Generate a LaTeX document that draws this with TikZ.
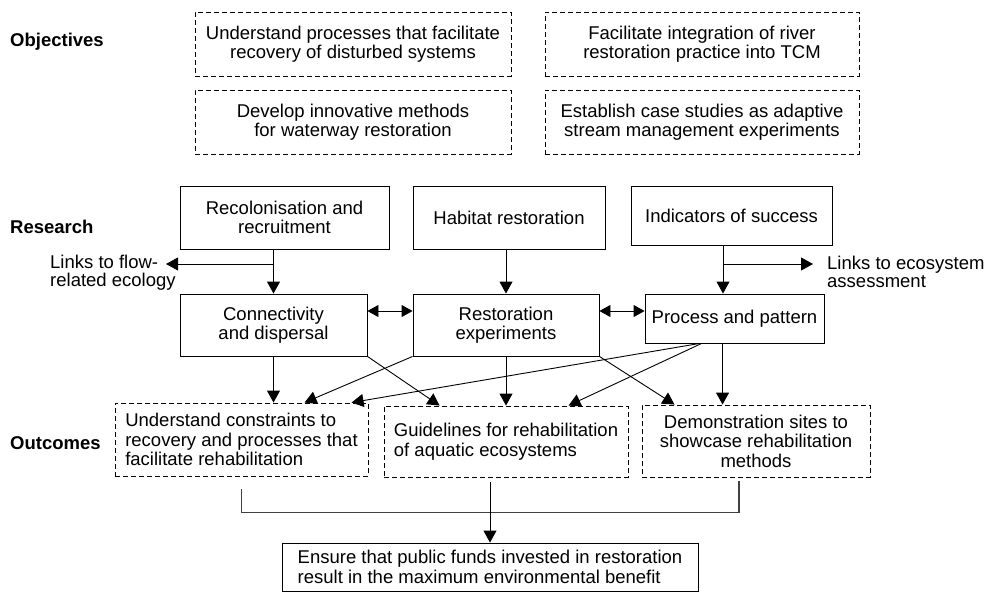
\documentclass[tikz,border=0pt]{standalone}
\usepackage{fontspec}
\setmainfont{Liberation Sans}
\usetikzlibrary{calc, arrows.meta}

\tikzset{
  box/.style={draw, line width=0.9pt, align=center, inner sep=0pt},
  dbox/.style={box, dash pattern=on 5pt off 3pt},
  arr/.style={line width=0.9pt, -{Triangle[length=12pt,width=13pt]}},
  darr/.style={line width=0.9pt, {Triangle[length=11pt,width=12pt]}-{Triangle[length=11pt,width=12pt]}},
  joinline/.style={line width=1.2pt, black!75},
  rowlabel/.style={font=\fontsize{18.5}{19.5}\selectfont\bfseries, anchor=west, inner sep=0pt},
  linklabel/.style={anchor=west, align=left, inner sep=0pt, font=\fontsize{18.5}{18}\selectfont},
}

\begin{document}
\begin{tikzpicture}[x=1pt, y=-1pt, font=\fontsize{18.5}{19.5}\selectfont]
                \useasboundingbox (0,0) rectangle (988,592);

                % Objectives
                \node[rowlabel] (lobj) at (10,42) {Objectives};
                \node[dbox, minimum width=316pt, minimum height=64pt] (obj1) at (353,44) {Understand processes that facilitate\\recovery of disturbed systems};
                \node[dbox, minimum width=314pt, minimum height=64pt] (obj2) at (702,44) {Facilitate integration of river\\restoration practice into TCM};
                \node[dbox, minimum width=316pt, minimum height=64pt] (obj3) at (353,122) {Develop innovative methods\\for waterway restoration};
                \node[dbox, minimum width=314pt, minimum height=64pt] (obj4) at (702,122) {Establish case studies as adaptive\\stream management experiments};

                % Research
                \node[rowlabel] (lres) at (10,227) {Research};
                \node[box, minimum width=209pt, minimum height=63pt] (recol) at (284.5,217.5) {Recolonisation and\\recruitment};
                \node[box, minimum width=192pt, minimum height=63pt] (habitat) at (509,217.5) {Habitat restoration};
                \node[box, minimum width=201pt, minimum height=59pt] (indic) at (731.5,215.5) {Indicators of success};
                \node[box, minimum width=187pt, minimum height=62pt] (conn) at (273.5,325) {Connectivity\\and dispersal};
                \node[box, minimum width=186pt, minimum height=62pt] (exper) at (506,325) {Restoration\\experiments};
                \node[box, minimum width=179pt, minimum height=49pt] (proc) at (734.5,318.5) {Process and pattern};

                \node[linklabel] (lflow) at (50,273) {Links to flow-\\related ecology};
                \node[linklabel] (leco) at (827,272) {Links to ecosystem\\assessment};
                \coordinate (flowtip) at (166,264);
                \coordinate (ecotip) at (813,264);
                \coordinate (procin) at ($(proc.north)+(-11.5,0)$);

                \draw[arr] (recol.south -| conn.north) -- (conn.north);
                \draw[arr] (conn.north |- flowtip) -- (flowtip);
                \draw[arr] (habitat.south -| exper.north) -- (exper.north);
                \draw[arr] (indic.south -| procin) -- (procin);
                \draw[arr] (procin |- ecotip) -- (ecotip);
                \draw[darr] ($(conn.east)+(0,-14)$) -- ($(exper.west)+(0,-14)$);
                \draw[darr] ($(exper.east)+(0,-14)$) -- ($(proc.west)+(0,-7.5)$);

                % Outcomes
                \node[rowlabel] (lout) at (10,443) {Outcomes};
                \node[dbox, align=left, minimum width=253pt, minimum height=73pt] (under) at (241.5,439.5) {Understand constraints to\\recovery and processes that\\facilitate rehabilitation};
                \node[dbox, align=left, minimum width=244pt, minimum height=71pt] (guide) at (506,441.5) {Guidelines for rehabilitation\\of aquatic ecosystems};
                \node[dbox, minimum width=228pt, minimum height=72pt] (demo) at (756,441) {Demonstration sites to\\showcase rehabilitation\\methods};

                \draw[arr] (conn.south) -- (conn.south |- under.north);
                \draw[arr] (exper.south west) -- ($(under.north west)+(190,0)$);
                \draw[arr] ($(proc.south west)+(55,0)$) -- ($(under.north west)+(237,0)$);
                \draw[arr] (conn.south east) -- ($(guide.north west)+(56,0)$);
                \draw[arr] (exper.south) -- (exper.south |- guide.north);
                \draw[arr] ($(proc.south west)+(57,0)$) -- ($(guide.north west)+(185,0)$);
                \draw[arr] (exper.south east) -- ($(demo.north west)+(33,0)$);
                \draw[arr] ($(proc.south west)+(78,0)$) -- ($(demo.north west)+(81,0)$);

                % Final goal
                \node[box, align=left, minimum width=416pt, minimum height=48pt] (goal) at (490,567) {Ensure that public funds invested in restoration\\result in the maximum environmental benefit};
                \draw[joinline] ($(under.south)+(0,13)$) -- ($(under.south)+(0,36)$) -| ($(demo.south)+(-17,4)$);
                \draw[arr] ($(guide.south -| goal.north)+(0,5)$) -- (goal.north);
            \end{tikzpicture}
\end{document}
